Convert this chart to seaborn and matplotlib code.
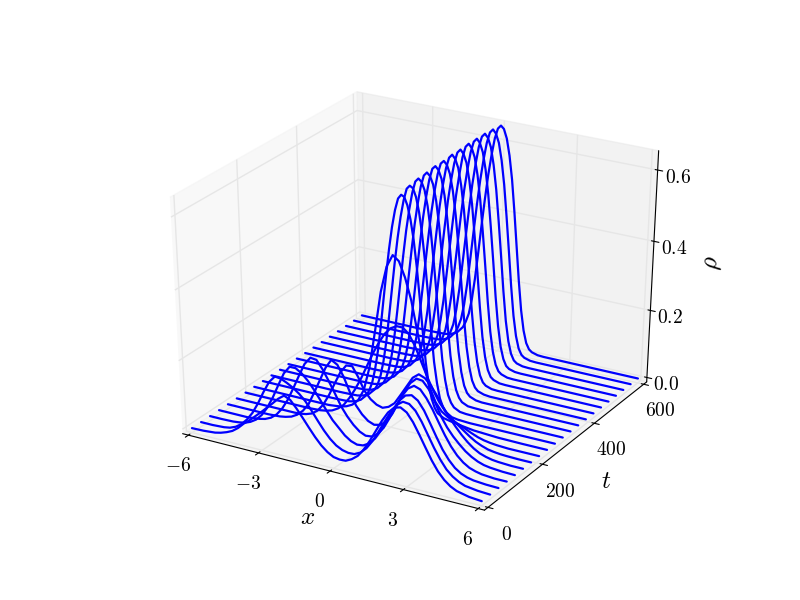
import matplotlib
matplotlib.use("Agg")
import matplotlib.pyplot as plt
import seaborn as sns

t_vals = [0, 30, 60, 90, 120, 150, 180, 210, 240, 270, 300, 330, 360, 390, 420, 450, 480, 510, 540, 570, 600]

# early slices: two broad humps, x every 0.25 over most of the range
x_early = [-6, -5.5, -5, -4.75, -4.5, -4.25, -4, -3.75, -3.5, -3.25, -3, -2.75, -2.5, -2.25, -2, -1.75, -1.5, -1.25, -1,
           -0.75, -0.5, -0.25, 0, 0.25, 0.5, 0.75, 1, 1.25, 1.5, 1.75, 2, 2.25, 2.5, 2.75, 3, 3.25, 3.5, 3.75, 4,
           4.25, 4.5, 4.75, 5, 5.5, 6]
rho_000 = [0, .001, .004, .008, .014, .022, .035, .052, .066, .082, .098, .115, .132, .150, .163, .155, .135, .112, .088, .065, .045, .030, .020, .017, .018, .027, .041, .064, .093, .126, .159, .187, .205, .210, .200, .177, .146, .113, .081, .054, .034, .020, .011, .003, 0]
rho_030 = [0, 0, .002, .005, .012, .024, .042, .066, .098, .135, .168, .188, .186, .178, .168, .155, .138, .115, .090, .066, .046, .031, .022, .018, .019, .028, .045, .070, .101, .134, .166, .191, .204, .202, .187, .160, .127, .094, .065, .041, .025, .014, .007, .002, 0]
rho_060 = [0, 0, .001, .003, .006, .013, .024, .042, .068, .102, .142, .180, .203, .203, .192, .175, .153, .128, .102, .078, .060, .042, .030, .024, .026, .036, .055, .083, .117, .151, .181, .200, .205, .194, .170, .137, .103, .071, .046, .027, .015, .008, .004, .001, 0]
rho_090 = [0, 0, 0, 0, .002, .004, .008, .016, .030, .052, .082, .120, .160, .198, .220, .218, .195, .165, .133, .100, .075, .055, .040, .032, .034, .046, .068, .101, .137, .172, .198, .210, .204, .183, .155, .122, .090, .062, .040, .024, .013, .007, .003, 0, 0]
rho_120 = [0, 0, 0, 0, 0, 0, .001, .002, .005, .010, .020, .036, .060, .098, .138, .178, .205, .195, .165, .125, .090, .068, .053, .046, .050, .064, .090, .126, .162, .192, .209, .207, .187, .155, .118, .090, .068, .050, .034, .022, .013, .007, .004, .001, 0]
rho_150 = [0, 0, 0, 0, 0, 0, 0, 0, 0, .001, .004, .010, .023, .045, .077, .115, .152, .176, .178, .150, .115, .095, .083, .078, .085, .100, .128, .157, .186, .200, .193, .175, .150, .122, .097, .075, .055, .038, .024, .014, .008, .004, .002, 0, 0]
rho_180 = [0, 0, 0, 0, 0, 0, 0, 0, 0, 0, .001, .002, .005, .010, .020, .035, .060, .090, .125, .165, .205, .240, .270, .290, .300, .300, .285, .255, .215, .175, .140, .110, .088, .072, .058, .045, .032, .021, .013, .007, .004, .002, .001, 0, 0]
rho_210 = [0, 0, 0, 0, 0, 0, 0, 0, 0, 0, 0, 0, .002, .004, .009, .018, .035, .070, .140, .250, .365, .440, .475, .462, .420, .360, .275, .190, .125, .085, .062, .050, .042, .035, .027, .019, .012, .007, .004, .002, .001, 0, 0, 0, 0]

# later slices: one narrow peak, x every 0.125 around it
x_late = [-6, -5, -4, -3, -2.5, -2.25, -2, -1.75, -1.5, -1.375, -1.25, -1.125, -1, -0.875, -0.75, -0.625, -0.5, -0.375,
          -0.25, -0.125, 0, 0.125, 0.25, 0.375, 0.5, 0.625, 0.75, 0.875, 1, 1.125, 1.25, 1.375, 1.5, 1.75, 2, 2.5,
          3, 4, 5, 6]
left_tail = [0, 0, 0, 0, .001, .002, .006, .015]
right_tail = [0, 0, 0, 0]
rho_240 = left_tail + [.033, .050, .075, .115, .170, .240, .320, .398, .470, .532, .580, .613, .625, .621, .600, .563, .510, .437, .350, .256, .170, .108, .068, .044, .030, .020, .016, .010] + [.005, .001, 0, 0]
rho_270 = left_tail + [.033, .050, .078, .121, .180, .255, .335, .414, .485, .545, .592, .625, .635, .630, .608, .568, .508, .430, .340, .245, .155, .095, .052, .029, .016, .005, .002, 0] + right_tail
rho_300 = left_tail + [.034, .051, .080, .124, .185, .260, .340, .418, .490, .549, .597, .630, .640, .633, .612, .570, .505, .423, .330, .232, .145, .087, .045, .024, .012, .003, .001, 0] + right_tail
rho_330 = left_tail + [.034, .052, .080, .125, .186, .262, .342, .420, .492, .551, .600, .632, .642, .634, .613, .571, .505, .420, .325, .226, .140, .080, .042, .021, .010, .002, .001, 0] + right_tail
rho_360 = left_tail + [.035, .053, .081, .126, .188, .265, .345, .423, .496, .555, .604, .636, .645, .636, .614, .570, .503, .416, .320, .220, .135, .076, .038, .018, .009, .002, 0, 0] + right_tail
rho_390 = left_tail + [.035, .053, .081, .126, .188, .266, .346, .424, .497, .556, .605, .636, .645, .636, .613, .568, .502, .414, .318, .218, .132, .074, .036, .017, .008, .002, 0, 0] + right_tail
rho_420 = left_tail + [.035, .054, .081, .127, .189, .267, .347, .426, .499, .558, .607, .638, .648, .638, .615, .569, .502, .412, .316, .215, .130, .071, .034, .015, .007, .001, 0, 0] + right_tail
rho_450 = left_tail + [.035, .054, .081, .127, .189, .267, .347, .426, .499, .558, .607, .638, .648, .638, .615, .568, .501, .411, .315, .214, .128, .070, .033, .014, .007, .001, 0, 0] + right_tail
rho_480 = left_tail + [.035, .054, .080, .127, .189, .268, .348, .427, .500, .559, .609, .640, .650, .640, .616, .569, .501, .411, .314, .213, .127, .068, .032, .014, .007, .001, 0, 0] + right_tail
rho_510 = left_tail + [.035, .054, .080, .127, .189, .268, .348, .427, .500, .559, .609, .640, .650, .640, .616, .569, .501, .411, .314, .212, .127, .067, .032, .013, .006, .001, 0, 0] + right_tail
rho_540 = left_tail + [.035, .054, .080, .126, .190, .268, .349, .428, .500, .559, .609, .640, .650, .640, .616, .568, .500, .410, .313, .212, .126, .067, .031, .013, .006, .001, 0, 0] + right_tail
rho_570 = left_tail + [.035, .054, .080, .125, .190, .268, .349, .428, .499, .558, .607, .638, .648, .638, .614, .567, .500, .410, .312, .211, .125, .066, .030, .013, .006, .001, 0, 0] + right_tail
rho_600 = left_tail + [.035, .054, .080, .125, .190, .268, .350, .427, .498, .556, .605, .635, .645, .637, .612, .566, .500, .410, .310, .210, .125, .066, .030, .013, .006, .001, 0, 0] + right_tail

early_rho = [rho_000, rho_030, rho_060, rho_090, rho_120, rho_150, rho_180, rho_210]
late_rho = [rho_240, rho_270, rho_300, rho_330, rho_360, rho_390, rho_420, rho_450, rho_480, rho_510, rho_540, rho_570, rho_600]

x_ticks = [-6, -3, 0, 3, 6]
x_tick_labels = ["$-6$", "$-3$", "$0$", "$3$", "$6$"]
t_ticks = [0, 200, 400, 600]
t_tick_labels = ["$0$", "$200$", "$400$", "$600$"]
z_ticks = [0, 0.2, 0.4, 0.6]
z_tick_labels = ["$0.0$", "$0.2$", "$0.4$", "$0.6$"]

sns.set_style("white")
blue = sns.color_palette(["#0000ff"])[0]

plt.rcParams["mathtext.fontset"] = "cm"
plt.rcParams["axes3d.automargin"] = True
plt.rcParams["grid.color"] = "#e6e6e6"
plt.rcParams["grid.linewidth"] = 1.0
plt.rcParams["text.color"] = "black"
plt.rcParams["axes.labelcolor"] = "black"
plt.rcParams["xtick.color"] = "black"
plt.rcParams["ytick.color"] = "black"
plt.rcParams["axes.edgecolor"] = "black"

fig = plt.figure(figsize=(8, 6), dpi=100)
ax = fig.add_axes([0.125, 0.1, 0.775, 0.8], projection="3d")
# axes fill the whole rectangle, stretched wider than tall
ax.apply_aspect = lambda position=None: None
ax.set_box_aspect((1, 1, 1), zoom=0.945)
ax.view_init(elev=30, azim=-60)

for t, rho in zip(t_vals[:8], early_rho):
    ax.plot(x_early, [t] * len(x_early), rho, color=blue, linewidth=1.6)
for t, rho in zip(t_vals[8:], late_rho):
    ax.plot(x_late, [t] * len(x_late), rho, color=blue, linewidth=1.6)

ax.set_xlim(-6, 6)
ax.set_ylim(0, 600)
ax.set_zlim(0, 0.64)

ax.set_xticks(x_ticks)
ax.set_xticklabels(x_tick_labels, fontsize=14)
ax.set_yticks(t_ticks)
ax.set_yticklabels(t_tick_labels, fontsize=14)
ax.set_zticks(z_ticks)
ax.set_zticklabels(z_tick_labels, fontsize=14)
ax.tick_params(axis="x", pad=4)
ax.tick_params(axis="y", pad=4)
ax.tick_params(axis="z", pad=1)

ax.set_xlabel("$x$", fontsize=18, labelpad=5)
ax.set_ylabel("$t$", fontsize=18, labelpad=5)
ax.set_zlabel(r"$\rho$", fontsize=18, labelpad=6)

fig.savefig("out.png", dpi=100)
